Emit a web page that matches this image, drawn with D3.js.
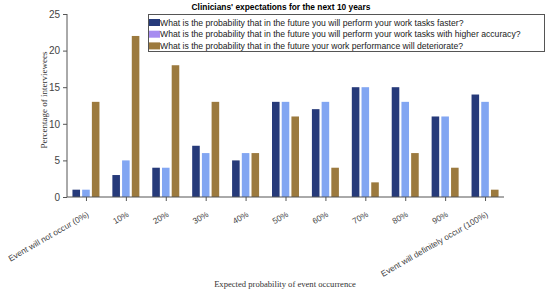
<!DOCTYPE html>
<html><head><meta charset="utf-8">
<script src="https://cdn.jsdelivr.net/npm/d3@7"></script>
<style>body{margin:0;background:#fff}svg{display:block}</style>
</head><body><svg id="c" width="550" height="294"></svg>
<script>
const categories = ["Event will not occur (0%)","10%","20%","30%","40%","50%","60%","70%","80%","90%","Event will definitely occur (100%)"];
const seriesNames = [
  "What is the probability that in the future you will perform your work tasks faster?",
  "What is the probability that in the future you will perform your work tasks with higher accuracy?",
  "What is the probability that in the future your work performance will deteriorate?"
];
const faster =      [1, 3, 4, 7, 5, 13, 12, 15, 15, 11, 14];
const accuracy =    [1, 5, 4, 6, 6, 13, 13, 15, 13, 11, 13];
const deteriorate = [13, 22, 18, 13, 6, 11, 4, 2, 6, 4, 1];
const yTicks = [0, 5, 10, 15, 20, 25];
const colors = ["#263a7a", "#82a6f2", "#9c7a3e"];
const legendColors = ["#263a7a", "#a68cf0", "#9c7a3e"];

(function(){
const series = [faster, accuracy, deteriorate];
const svg = d3.select("#c");
const pl = 67, pr = 504, pt = 14, pb = 197;
const x = d3.scaleLinear().domain([-0.475, categories.length - 0.525]).range([pl, pr]);
const y = d3.scaleLinear().domain([0, 25]).range([pb, pt]);
const sub = d3.scaleBand().domain([0,1,2]).range([-13.5, 13.5]).paddingInner(0.22);

series.forEach((vals, s) => {
  svg.append("g").selectAll("rect").data(vals).join("rect")
    .attr("x", (d,i) => x(i) + sub(s))
    .attr("y", d => y(d))
    .attr("width", sub.bandwidth())
    .attr("height", d => y(0) - y(d))
    .attr("fill", colors[s]);
});

const yAxis = svg.append("g").attr("transform", `translate(${pl},0)`)
  .call(d3.axisLeft(y).tickValues(yTicks).tickSize(4).tickPadding(3));
yAxis.select(".domain").attr("stroke", "#555").attr("d", `M0,${pt}V${pb}`);
yAxis.selectAll(".tick line").attr("stroke", "#555");
yAxis.selectAll("text").attr("font-family", "Liberation Sans, Arial, sans-serif").attr("font-size", 10).attr("fill", "#444");

const xAxis = svg.append("g").attr("transform", `translate(0,${pb})`)
  .call(d3.axisBottom(x).tickValues(d3.range(categories.length)).tickFormat(i => categories[i]).tickSize(4).tickSizeOuter(0));
xAxis.select(".domain").attr("stroke", "#555").attr("d", `M${pl},0H${pr}`);
xAxis.selectAll(".tick line").attr("stroke", "#555");
xAxis.selectAll("text")
  .attr("font-family", "Liberation Sans, Arial, sans-serif").attr("font-size", 8.3).attr("fill", "#444")
  .attr("text-anchor", "end").attr("dy", null).attr("y", 0)
  .attr("transform", "translate(3,19) rotate(-30)");

svg.append("text").attr("x", 281).attr("y", 10).attr("text-anchor", "middle")
  .attr("font-family", "Liberation Sans, Arial, sans-serif").attr("font-weight", "bold").attr("font-size", 8.4)
  .text("Clinicians' expectations for the next 10 years");

svg.append("text").attr("transform", `translate(47,100) rotate(-90)`).attr("text-anchor", "middle")
  .attr("font-family", "Liberation Serif, Times New Roman, serif").attr("font-size", 9).attr("fill", "#333")
  .text("Percentage of interviewees");
svg.append("text").attr("x", 285).attr("y", 287).attr("text-anchor", "middle")
  .attr("font-family", "Liberation Serif, Times New Roman, serif").attr("font-size", 8.6).attr("fill", "#333")
  .text("Expected probability of event occurrence");

const lg = svg.append("g");
lg.append("rect").attr("x", 148.5).attr("y", 14.5).attr("width", 396).attr("height", 37)
  .attr("fill", "#fff").attr("stroke", "#555").attr("stroke-width", 1);
seriesNames.forEach((n, i) => {
  const cy = 22.5 + i * 11.7;
  lg.append("rect").attr("x", 149).attr("y", cy - 3.5).attr("width", 11).attr("height", 7).attr("fill", legendColors[i]);
  lg.append("text").attr("x", 160).attr("y", cy + 3)
    .attr("font-family", "Liberation Sans, Arial, sans-serif").attr("font-size", 8.65).attr("fill", "#222")
    .text(n);
});
})();
</script></body></html>
